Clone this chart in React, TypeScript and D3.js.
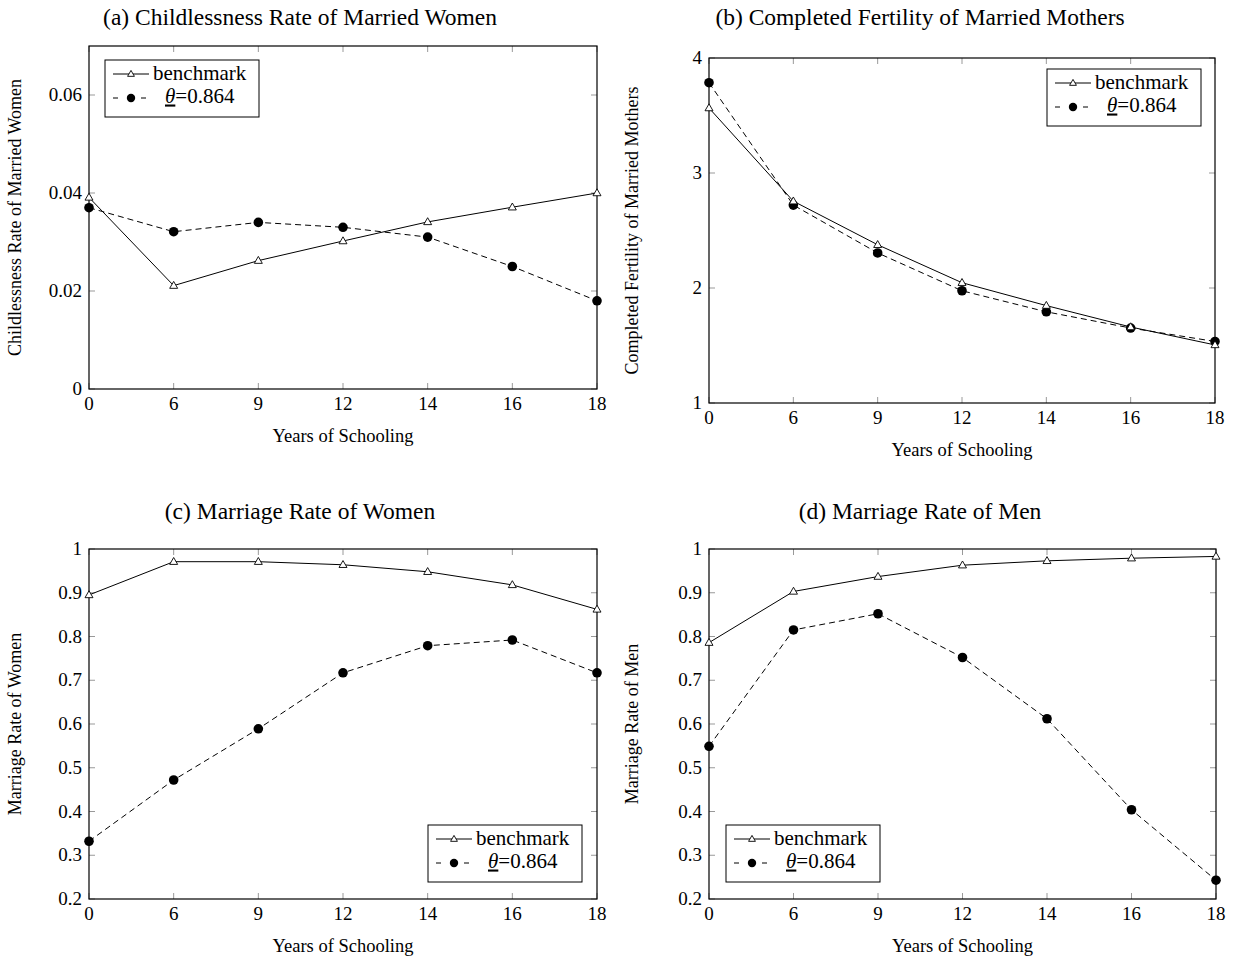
import React from "react";
import * as d3 from "d3";

// years of schooling (categorical, evenly spaced)
const schooling = ["0", "6", "9", "12", "14", "16", "18"];

// (a) childlessness rate of married women
const childlessBench = [0.0391, 0.0211, 0.0262, 0.0302, 0.0341, 0.0371, 0.0400];
const childlessTheta = [0.0370, 0.0321, 0.0340, 0.0330, 0.0310, 0.0250, 0.0180];

// (b) completed fertility of married mothers
const fertilityBench = [3.565, 2.755, 2.376, 2.046, 1.847, 1.661, 1.505];
const fertilityTheta = [3.785, 2.721, 2.305, 1.976, 1.793, 1.652, 1.535];

// (c) marriage rate of women
const womenBench = [0.895, 0.971, 0.971, 0.964, 0.948, 0.918, 0.862];
const womenTheta = [0.332, 0.472, 0.589, 0.717, 0.779, 0.792, 0.717];

// (d) marriage rate of men
const menBench = [0.786, 0.903, 0.937, 0.963, 0.973, 0.979, 0.983];
const menTheta = [0.549, 0.815, 0.852, 0.752, 0.612, 0.404, 0.243];

const ticksA = [0, 0.02, 0.04, 0.06];
const ticksB = [1, 2, 3, 4];
const ticksCD = [0.2, 0.3, 0.4, 0.5, 0.6, 0.7, 0.8, 0.9, 1];

const FONT = "'Liberation Serif', 'Times New Roman', serif";
const DASH = "6,4";

type Box = { left: number; right: number; top: number; bottom: number };

function Triangle({ x, y, s = 4.2 }: { x: number; y: number; s?: number }) {
  return (
    <path
      d={`M${x},${y - s}L${x + s * 0.95},${y + s * 0.65}L${x - s * 0.95},${y + s * 0.65}Z`}
      fill="white"
      stroke="black"
      strokeWidth={0.9}
    />
  );
}

// pgfplots-like legend box, 154 x 57
function Legend({ x, y }: { x: number; y: number }) {
  return (
    <g transform={`translate(${x},${y})`}>
      <rect width={154} height={57} fill="white" stroke="black" strokeWidth={1} />
      <line x1={8} x2={44} y1={14} y2={14} stroke="black" strokeWidth={1} />
      <Triangle x={26} y={14} s={3.6} />
      <text x={48} y={19.5} fontSize={21} fontFamily={FONT}>benchmark</text>
      <line x1={8} x2={44} y1={38} y2={38} stroke="black" strokeWidth={1} strokeDasharray="5,9" strokeDashoffset={0} />
      <circle cx={26} cy={38} r={4.2} fill="black" />
      <text x={60} y={42.5} fontSize={21} fontFamily={FONT}>
        <tspan fontStyle="italic" textDecoration="underline">θ</tspan>
        <tspan>=0.864</tspan>
      </text>
    </g>
  );
}

function Panel({
  box, domain, ticks, bench, theta, title, titleX, titleY, ylabel, ylabelX, legend,
}: {
  box: Box; domain: [number, number]; ticks: number[]; bench: number[]; theta: number[];
  title: string; titleX: number; titleY: number; ylabel: string; ylabelX: number;
  legend: { x: number; y: number };
}) {
  const x = d3.scalePoint<string>().domain(schooling).range([box.left, box.right]).padding(0);
  const y = d3.scaleLinear().domain(domain).range([box.bottom, box.top]);
  const line = d3.line<number>().x((_, i) => x(schooling[i]) as number).y((d) => y(d));
  const cx = (box.left + box.right) / 2;
  const cy = (box.top + box.bottom) / 2;
  const fmt = d3.format("~g");
  return (
    <g>
      <text x={titleX} y={titleY} textAnchor="middle" fontSize={23.5} fontFamily={FONT}>{title}</text>
      {schooling.map((s) => (
        <g key={s}>
          <line x1={x(s)} x2={x(s)} y1={box.bottom} y2={box.bottom - 6} stroke="#999" />
          <line x1={x(s)} x2={x(s)} y1={box.top} y2={box.top + 6} stroke="#999" />
          <text x={x(s)} y={box.bottom + 21} textAnchor="middle" fontSize={19} fontFamily={FONT}>{s}</text>
        </g>
      ))}
      {ticks.map((t) => (
        <g key={t}>
          <line x1={box.left} x2={box.left + 6} y1={y(t)} y2={y(t)} stroke="#999" />
          <line x1={box.right} x2={box.right - 6} y1={y(t)} y2={y(t)} stroke="#999" />
          <text x={box.left - 7} y={y(t) + 6} textAnchor="end" fontSize={19} fontFamily={FONT}>{fmt(t)}</text>
        </g>
      ))}
      <rect x={box.left} y={box.top} width={box.right - box.left} height={box.bottom - box.top} fill="none" stroke="black" strokeWidth={1.2} />
      <path d={line(theta) || ""} fill="none" stroke="black" strokeWidth={1} strokeDasharray={DASH} />
      <path d={line(bench) || ""} fill="none" stroke="black" strokeWidth={1} />
      {theta.map((v, i) => (
        <circle key={"t" + i} cx={x(schooling[i])} cy={y(v)} r={4.8} fill="black" />
      ))}
      {bench.map((v, i) => (
        <Triangle key={"b" + i} x={x(schooling[i]) as number} y={y(v)} />
      ))}
      <text x={cx} y={box.bottom + 53} textAnchor="middle" fontSize={18.5} fontFamily={FONT}>Years of Schooling</text>
      <text transform={`translate(${ylabelX},${cy}) rotate(-90)`} textAnchor="middle" fontSize={18} fontFamily={FONT}>{ylabel}</text>
      <Legend x={legend.x} y={legend.y} />
    </g>
  );
}

export default function App() {
  return (
    <svg width={1233} height={958} style={{ position: "absolute", left: 0, top: 0, background: "white" }}>
      <rect width={1233} height={958} fill="white" />
      <Panel
        box={{ left: 89, right: 597, top: 46, bottom: 389 }}
        domain={[0, 0.07]} ticks={ticksA}
        bench={childlessBench} theta={childlessTheta}
        title="(a) Childlessness Rate of Married Women" titleX={300} titleY={25}
        ylabel="Childlessness Rate of Married Women" ylabelX={21}
        legend={{ x: 105, y: 60 }}
      />
      <Panel
        box={{ left: 709, right: 1215, top: 58, bottom: 403 }}
        domain={[1, 4]} ticks={ticksB}
        bench={fertilityBench} theta={fertilityTheta}
        title="(b) Completed Fertility of Married Mothers" titleX={920} titleY={25}
        ylabel="Completed Fertility of Married Mothers" ylabelX={638}
        legend={{ x: 1047, y: 69 }}
      />
      <Panel
        box={{ left: 89, right: 597, top: 549, bottom: 899 }}
        domain={[0.2, 1]} ticks={ticksCD}
        bench={womenBench} theta={womenTheta}
        title="(c) Marriage Rate of Women" titleX={300} titleY={519}
        ylabel="Marriage Rate of Women" ylabelX={21}
        legend={{ x: 428, y: 825 }}
      />
      <Panel
        box={{ left: 709, right: 1216, top: 549, bottom: 899 }}
        domain={[0.2, 1]} ticks={ticksCD}
        bench={menBench} theta={menTheta}
        title="(d) Marriage Rate of Men" titleX={920} titleY={519}
        ylabel="Marriage Rate of Men" ylabelX={638}
        legend={{ x: 726, y: 825 }}
      />
    </svg>
  );
}
